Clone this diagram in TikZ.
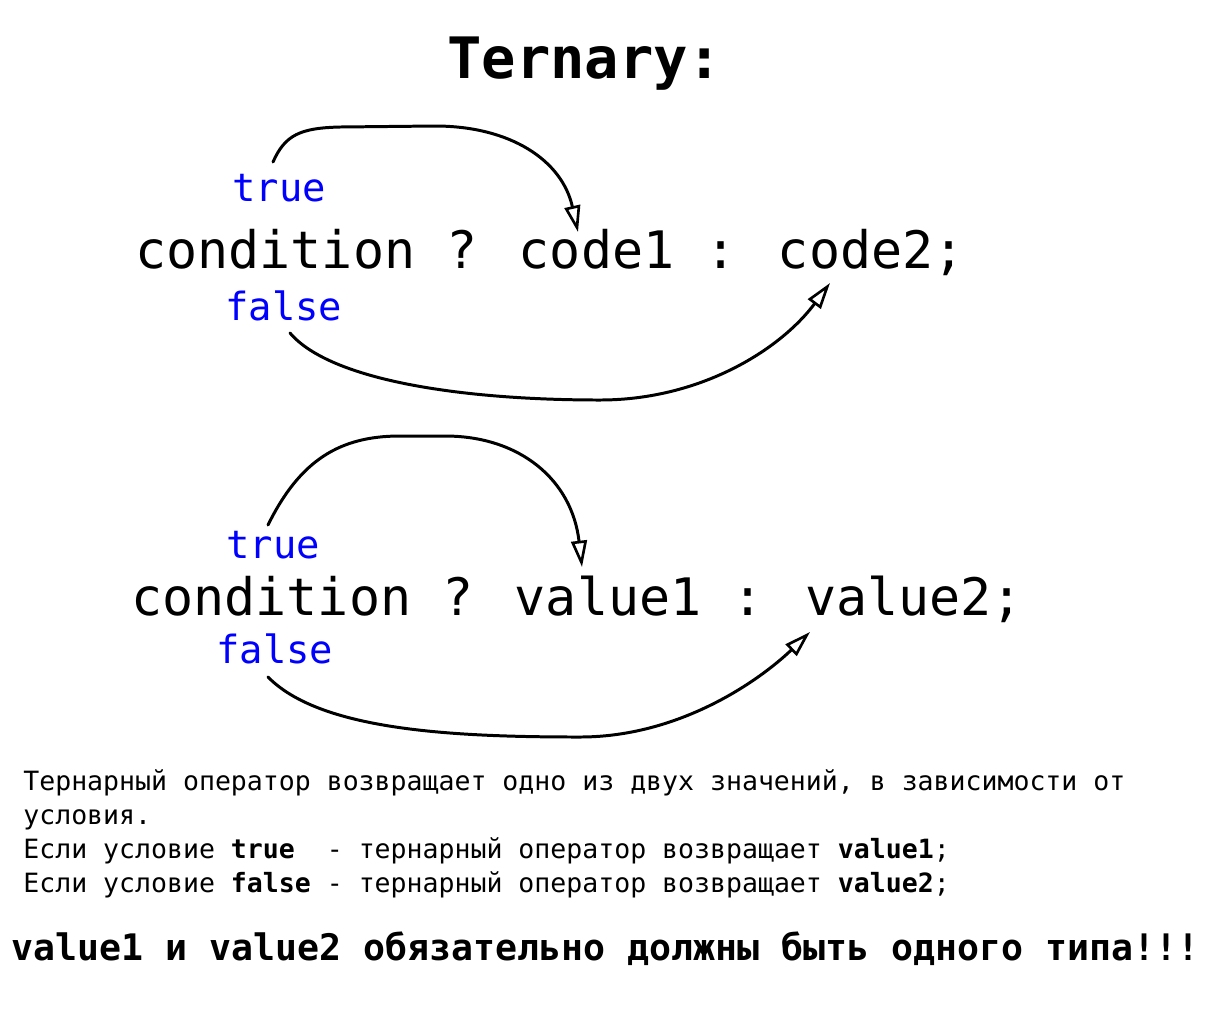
\documentclass[tikz,border=0pt]{standalone}
\usepackage{fontspec}
\setmainfont{DejaVu Sans Mono}
\usetikzlibrary{arrows.meta}
\definecolor{kwblue}{RGB}{0,0,255}

\begin{document}
\begin{tikzpicture}[x=0.02cm, y=-0.02cm,
  txt/.style={inner sep=0pt, anchor=base west},
  code/.style={txt, font=\fontsize{29.4}{34}\selectfont},
  kw/.style={txt, text=kwblue, font=\fontsize{22.1}{26}\selectfont},
  note/.style={txt, font=\fontsize{15.1}{18}\selectfont},
  arr/.style={-{Triangle[open, length=15pt, width=9pt, line width=1.5pt]}, line width=1.7pt, line cap=round}]
\useasboundingbox (0,0) rectangle (1230,1012);
\node[txt, font=\bfseries\fontsize{32.5}{36}\selectfont] (title) at (447,78) {Ternary:};
% first form
\node[kw] (true1) at (232,201) {true};
\node[code] (line1) at (135,268) {condition ? code1 : code2;};
\node[kw] (false1) at (225,320) {false};
% second form
\node[kw] (true2) at (226,558) {true};
\node[code] (line2) at (131,615) {condition ? value1 : value2;};
\node[kw] (false2) at (216,663) {false};
% explanation
\node[note] (note1) at (23,790) {Тернарный оператор возвращает одно из двух значений, в зависимости от};
\node[note] (note2) at (23,824) {условия.};
\node[note] (note3) at (23,858) {Если условие \textbf{true}~ - тернарный оператор возвращает \textbf{value1};};
\node[note] (note4) at (23,892) {Если условие \textbf{false} - тернарный оператор возвращает \textbf{value2};};
\node[txt, font=\bfseries\fontsize{20.8}{24}\selectfont] (warn) at (11,960) {value1 и value2 обязательно должны быть одного типа!!!};
% arrows
\coordinate (t1s) at (273,162);  \coordinate (t1e) at (578,232);
\coordinate (f1s) at (290,333);  \coordinate (f1e) at (830,283);
\coordinate (t2s) at (268,525);  \coordinate (t2e) at (582,567);
\coordinate (f2s) at (268,677);  \coordinate (f2e) at (810,632);
\draw[arr] (t1s) .. controls (285,135) and (300,128) .. (340,127) -- (435,126) .. controls (510,126) and (562,160) .. (t1e);
\draw[arr] (f1s) .. controls (330,380) and (460,400) .. (600,400) .. controls (700,400) and (780,350) .. (f1e);
\draw[arr] (t2s) .. controls (300,460) and (340,436) .. (400,436) -- (445,436) .. controls (520,436) and (572,480) .. (t2e);
\draw[arr] (f2s) .. controls (320,730) and (450,737) .. (580,737) .. controls (680,737) and (760,680) .. (f2e);
\end{tikzpicture}
\end{document}
